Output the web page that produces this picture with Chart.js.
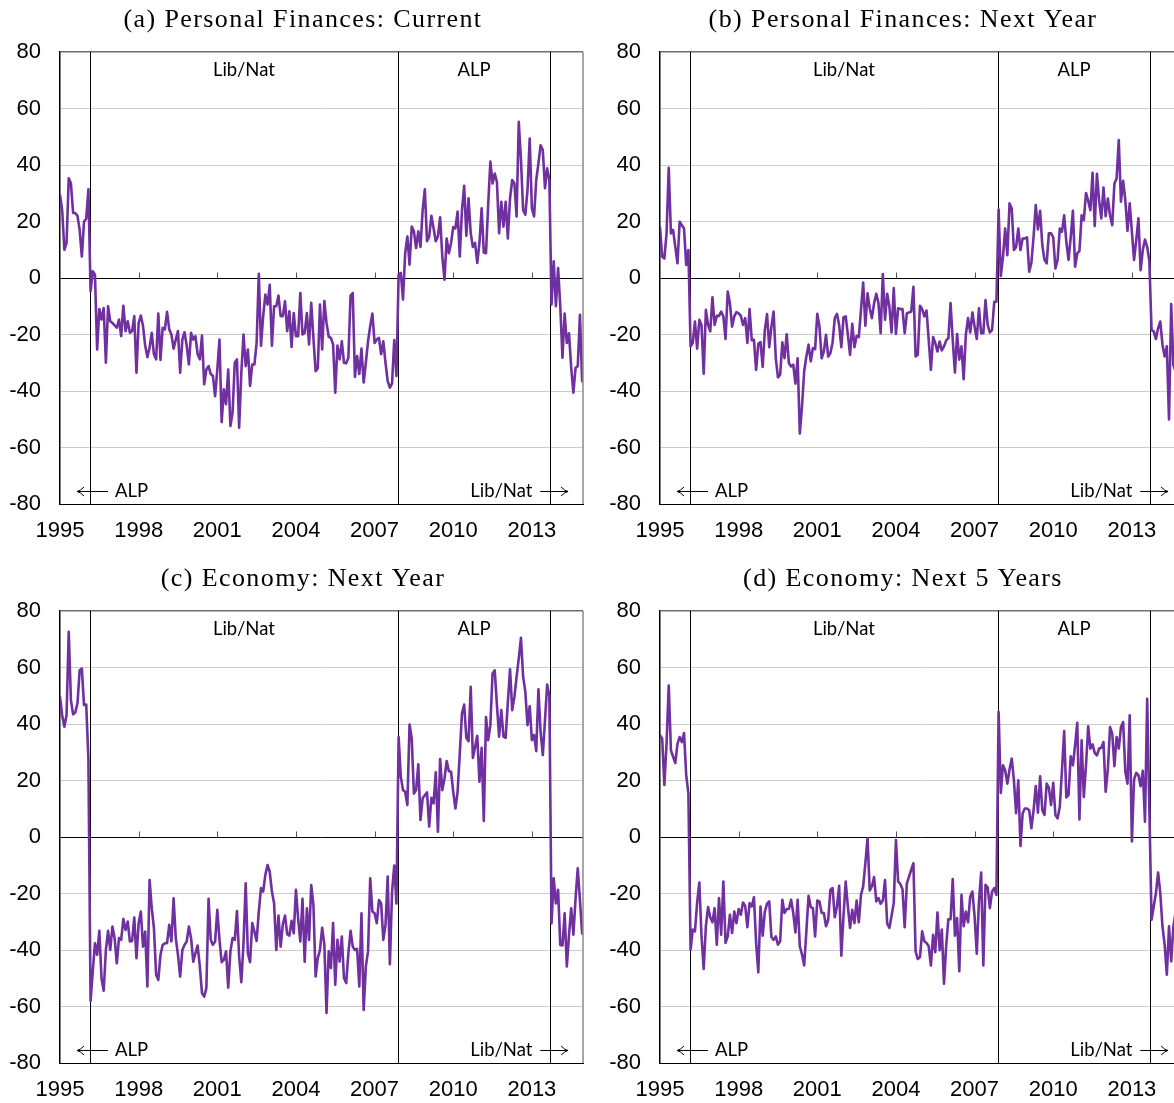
<!DOCTYPE html>
<html>
<head>
<meta charset="utf-8">
<script src="https://cdn.jsdelivr.net/npm/chart.js@4.4.1/dist/chart.umd.min.js"></script>
<style>
  html, body { margin: 0; padding: 0; background: #fff; overflow: hidden; }
  body { width: 1174px; height: 1103px; position: relative; }
  .panel { position: absolute; width: 606px; height: 556px; }
  .panel canvas { display: block; }
</style>
</head>
<body>
<div class="panel" style="left:0;top:0"><canvas id="chartA" width="606" height="556"></canvas></div>
<div class="panel" style="left:600px;top:0"><canvas id="chartB" width="606" height="556"></canvas></div>
<div class="panel" style="left:0;top:559px"><canvas id="chartC" width="606" height="556"></canvas></div>
<div class="panel" style="left:600px;top:559px"><canvas id="chartD" width="606" height="556"></canvas></div>
<script>
// monthly series, first value = January 1995
const START_YEAR = 1995;
const yearTicks = [1995, 1998, 2001, 2004, 2007, 2010, 2013];
const elections = [1996.15, 2007.88, 2013.7];

const personalCurrent = [
  29.4, 24, 10, 12.4, 35.3, 33.5, 23, 23, 22, 17, 7.6, 20, 21, 31.4,
  -4.7, 2.4, 1.2, -25.3, -11, -14.7, -10.6, -30, -10, -15.3,
  -15.9, -16.8, -17.6, -14.7, -20.6, -9.8, -18.8, -15.3, -19.4, -18.8,
  -13.5, -33.5, -15.9, -13.3, -17, -24, -28, -24.7, -19.4, -27,
  -28.8, -12.6, -29, -17.6, -18.2, -12, -18.2, -20, -25, -21.8,
  -18.8, -33.5, -21.8, -19.2, -24, -30.6, -19.4, -21.8, -20.6, -27,
  -28.8, -20.4, -37.6, -32.4, -31.2, -34, -34.7, -41.8, -32.4, -21.8,
  -51, -39.4, -44.7, -32.4, -52.4, -47.6, -30, -28.8, -53, -33.5,
  -20, -31.2, -25.3, -38.2, -30.6, -30.6, -23, 1.5, -24, -13.5,
  -5.9, -9.4, -2.4, -24, -10, -10, -6.2, -13.5, -13.5, -8.2,
  -18.8, -11.8, -24.4, -12.4, -20.6, -20.6, -5.3, -20, -19.4, -12.4,
  -23.5, -8.8, -21.2, -33, -32, -9.4, -25.3, -8.2, -15.9, -20.8,
  -21.2, -23.5, -40.6, -23.9, -28.8, -22.4, -30, -30.2, -28.2, -6.2,
  -5.3, -35, -27.6, -34, -25, -37, -30, -22.4, -17, -12.6,
  -23, -21.8, -21.2, -27, -22.4, -30, -36.5, -38.8, -37.3, -22,
  -34.7,
  1.2, 1.8, -7.6, 8.8, 14.7, 4.7, 18.2, 16.5, 10.6, 16.5,
  11, 24, 31.4, 13, 14.7, 22, 17.6, 13, 14.7, 21.5,
  7.6, -0.6, 14, 8.8, 12.4, 18, 17.6, 23.5, 7.6, 24,
  32.6, 15, 28.2, 15.9, 11, 12.4, 5.3, 12.4, 24.7, 9,
  8.8, 26, 41.2, 33.5, 37, 34, 15.9, 27, 18.2, 27,
  14, 28.2, 34.7, 33.5, 21.8, 55.3, 41.8, 24, 22.4, 31.2,
  49.4, 24.7, 21.8, 34.7, 40.6, 47, 45.3, 31.8, 38.8, 34.7,
  -9.4, 5.9, -10, 3.5, -10, -28.2, -12.6, -23, -19.6, -31.8,
  -40.6, -31.8, -31.2, -13, -36.5
];

const personalNextYear = [
  17.9, 7.5, 6.9, 15.8, 39, 15.8, 17, 11, 5.2, 19.9, 18.7, 17.5, 4.6, 9.9,
  -24.2, -23, -15.4, -25, -14.8, -16.6, -33.9, -11.3, -16.6, -18.9,
  -6.8, -16.6, -13.4, -13.4, -11.9, -13.6, -21.6, -4.8, -8.9, -17.2,
  -13.6, -12.1, -12.5, -13.4, -16.6, -14.2, -23, -11, -22, -21.9,
  -32.5, -23.3, -22.7, -31.5, -18.4, -12.8, -24.5, -17.2, -11.9, -28.4,
  -35.2, -34.2, -22.8, -28.4, -19.9, -30.1, -31.3, -30.7, -37.4, -28.4,
  -55, -45.4, -33, -27.8, -23.6, -29.5, -24.8, -25.2, -12.7, -17.2,
  -28.4, -26, -20.1, -27.8, -26.6, -22.8, -14.2, -12.7, -16.6, -24.5,
  -13.9, -13.6, -20.1, -27.2, -16.2, -24.5, -20.5, -20.9, -11.3, -1.6,
  -16.9, -5.4, -10.7, -14.2, -8.9, -5.6, -8.9, -19.5, 1.4, -14.8,
  -5.6, -10.1, -19.3, -3.6, -19.8, -10.7, -11, -11, -19.5, -12.5,
  -12.2, -11.9, -3.1, -27.8, -27.2, -9.8, -11, -13.6, -11.5, -21.9,
  -32.5, -20.9, -23, -26, -22.5, -25.6, -24.2, -22.1, -21.3, -8.9,
  -21.9, -33.4, -19.8, -28.9, -24.2, -35.8, -20.1, -14.2, -19.3, -12.2,
  -17.2, -21.6, -10.7, -19.5, -19.5, -7.8, -16.6, -19.3, -18.4, -8.4,
  -8.4,
  24.2, 0.7, 7.5, 17.5, 8.1, 26.4, 24.6, 9.9, 11, 17.5,
  9.9, 14, 14, 14.4, 2.2, 5.4, 14.6, 25.8, 17.2, 23.8,
  11.6, 6.4, 5.2, 15.8, 15.8, 14.4, 3.4, 6.4, 17.5, 16.4,
  22.2, 12.8, 6.4, 14.4, 23.8, 4, 8.7, 9.6, 22.2, 20.5,
  30.1, 27.3, 24, 37.2, 18.4, 36.9, 27.5, 21.1, 32, 21.9,
  28.1, 22.2, 18.7, 33.4, 35.2, 48.8, 27, 34.4, 27.5, 16.7,
  26.4, 16.4, 6.4, 13.4, 21.1, 2.8, 9.9, 13.6, 11, 6,
  -18.4, -18.9, -21.6, -17.8, -15.4, -23.6, -27.8, -24.2, -50.1, -9.2,
  -30.7, -33
];

const economyNextYear = [
  49.6, 43.1, 39, 43.1, 72.6, 48.4, 43.4, 44.1, 47.3, 59, 59.6, 46.7, 46.9, 27.8,
  -58, -47.6, -37.6, -41.7, -33.2, -50, -54.4, -40, -33.2, -40,
  -31.7, -35.8, -44.7, -35.8, -36.4, -29, -32.9, -29.9, -37, -36.8,
  -28.5, -42.9, -30.5, -26.4, -38.8, -33.5, -52.9, -15.2, -25.2, -32.3,
  -48.8, -50.6, -41.7, -38.2, -37.6, -37.6, -31.1, -37, -21.7, -35.8,
  -41.7, -49.4, -40, -38.2, -37, -31.7, -35.8, -44.1, -41.1, -38.4,
  -45.8, -55.3, -56.5, -53.5, -21.9, -36.4, -38.2, -37, -25.8, -36.4,
  -44.3, -43.5, -40.5, -53.3, -40.5, -35.8, -36.4, -26.2, -42.3, -51.4,
  -37.6, -16.4, -41.1, -44.3, -30.5, -33.5, -36.8, -26.4, -18.1, -19.3,
  -13.4, -9.9, -12.3, -19.3, -23.5, -40, -27.8, -38.8, -30.9, -27.8,
  -34.4, -34.9, -29.7, -34.1, -18.7, -28.8, -37, -21.9, -44.1, -25.2,
  -36.4, -17, -24, -49.4, -42.9, -40, -32.1, -37.9, -62.3, -40.5,
  -46.4, -30.5, -52.3, -36.4, -44.1, -35.2, -50, -51.7, -41.1, -33.2,
  -38.8, -40, -39.6, -52.9, -27, -61.2, -45.8, -40.5, -14.6, -26.4,
  -27, -30.5, -22.3, -23.5, -36.4, -31.1, -14, -45, -19.3, -10.1,
  -23.5,
  35.5, 21.3, 16.6, 16, 11.3, 39.8, 34.9, 15.4, 16.6, 25.7,
  6, 13.7, 14.8, 15.8, 3.7, 13.9, 11.9, 22.9, 1.9, 27.6,
  16.6, 20.7, 26.9, 23.3, 23.1, 16, 10.1, 16, 29.6, 43.7,
  46.9, 35.1, 33.9, 53.2, 28, 31.9, 35.8, 19.6, 31.6, 5.7,
  42.5, 34.3, 39.6, 57.9, 59, 46.7, 35.5, 44.9, 35.5, 35.1,
  47.8, 59.4, 44.9, 49.6, 56.7, 63.2, 70.5, 56.7, 51.4, 39.6,
  46.3, 34.3, 36.1, 30.4, 52.3, 37, 29, 41.4, 54, 50,
  -30.5, -14.6, -23.5, -18.7, -38.2, -38.4, -27, -45.8, -34.6, -25.2,
  -34.6, -21.7, -11.1, -22.3, -34.1
];

const economyNext5Years = [
  36, 34.8, 18.4, 33, 53.6, 30.7, 28.4, 26.2, 33, 35.4, 33.6, 36.8, 21.9, 15.4,
  -39.9, -32.8, -33.4, -23.2, -16.1, -35.2, -46.7, -31.6, -24.8, -28.4,
  -30.2, -25.2, -38.1, -21.6, -34.6, -15.8, -37.5, -35.2, -27.5, -34,
  -26.4, -30.5, -25.5, -27.5, -23.2, -24.4, -31.9, -23.4, -24.6, -21.3,
  -37.5, -47.9, -24.6, -34.9, -26.4, -23.6, -22.8, -35.4, -36.4, -35.2,
  -38.1, -36.9, -22.2, -26.9, -25.5, -25.5, -22.2, -26.9, -33.8, -22.2,
  -38.7, -41.6, -45.5, -33.4, -20.8, -24.8, -25.2, -35.2, -22.5, -22.8,
  -26.9, -26.9, -31.6, -29.3, -18.7, -18.1, -28.4, -24.6, -17.3, -42,
  -27.9, -15.8, -24.6, -32.2, -25.8, -30.5, -22.5, -30.2, -20.5, -17.5,
  -9.3, -0.5, -18.9, -17.5, -14.2, -22.8, -21.6, -23.6, -22.5, -15.2,
  -30.7, -32.2, -27.9, -23.4, -1.1, -15.8, -16.6, -18.5, -31.9, -16.4,
  -14, -11.6, -9.3, -40.5, -43.2, -42.5, -33.4, -36.9, -37.5, -38.7,
  -45.5, -34.6, -40.8, -26.7, -40.1, -32.8, -51.9, -38.5, -29.1, -29.1,
  -14.9, -34.9, -28.7, -47.5, -20.5, -31.6, -26.4, -30.2, -21.1, -19.3,
  -28.1, -41.3, -22.8, -12.6, -45.5, -16.9, -17.8, -25.2, -19.3, -18.1,
  -20.5,
  44.2, 15.6, 25.4, 23.6, 18.9, 23.9, 27.8, 20.1, 8.4, 20.1,
  -3.2, 8.4, 10.1, 10.1, 9.5, 3.1, 9.5, 18, 8.6, 21.5,
  9.5, 7.8, 18.9, 17.5, 11.3, 19.2, 7.8, 6.6, 10.7, 23.6,
  37.5, 14, 14.8, 28.6, 25.4, 32.5, 40.4, 6.2, 34.2, 14.2,
  25.4, 39.2, 31.3, 32.8, 29.8, 28.9, 31.3, 31.6, 33.6, 16,
  23.9, 38.9, 36.6, 25.1, 35.4, 31.3, 38.9, 40.7, 23.1, 18.9,
  43.1, -1.6, 20.4, 22.7, 21.9, 18, 23.4, 5.4, 48.9, 10,
  -29.3, -24.6, -19.9, -12.6, -19.9, -31.6, -38.1, -48.7, -31.6, -44,
  -31.6, -26.9
];

const LINE_COLOR = '#7030a0';
const TICK_FONT = { family: '"Liberation Sans", Arial, sans-serif', size: 22 };

// titulo, etiquetas de gobierno y flechas
const panelDecor = {
  id: 'panelDecor',
  beforeDatasetsDraw(chart) {
    const { ctx, chartArea: a, scales: { x, y } } = chart;
    ctx.save();
    const y0 = Math.round(y.getPixelForValue(0)) + 0.5;
    ctx.strokeStyle = '#555';
    ctx.lineWidth = 1;
    yearTicks.slice(1).forEach(t => {
      const px = Math.round(x.getPixelForValue(t)) + 0.5;
      ctx.beginPath(); ctx.moveTo(px, y0); ctx.lineTo(px, y0 - 6); ctx.stroke();
    });
    ctx.strokeStyle = '#000';
    elections.forEach(e => {
      const px = Math.round(x.getPixelForValue(e)) + 0.5;
      ctx.beginPath(); ctx.moveTo(px, a.top); ctx.lineTo(px, a.bottom); ctx.stroke();
    });
    ctx.restore();
  },
  afterDraw(chart, args, opts) {
    const { ctx, chartArea: a, scales: { x } } = chart;
    ctx.save();
    // borde derecho
    ctx.strokeStyle = '#8a8a8a';
    ctx.lineWidth = 1.5;
    ctx.beginPath(); ctx.moveTo(a.right, a.top); ctx.lineTo(a.right, a.bottom); ctx.stroke();

    // titulo
    ctx.fillStyle = '#000';
    ctx.font = '26px "Liberation Serif", "Times New Roman", serif';
    ctx.letterSpacing = '1.4px';
    ctx.textAlign = 'center';
    ctx.textBaseline = 'alphabetic';
    ctx.fillText(opts.title, chart.width / 2, 27);
    ctx.letterSpacing = '0px';

    // etiquetas de periodos
    ctx.font = '18.5px Lato, "Open Sans", sans-serif';
    ctx.textBaseline = 'middle';
    const mid1 = x.getPixelForValue((elections[0] + elections[1]) / 2);
    const mid2 = x.getPixelForValue((elections[1] + elections[2]) / 2);
    ctx.fillText('Lib/Nat', mid1, a.top + 18);
    ctx.fillText('ALP', mid2, a.top + 18);

    const yb = a.bottom - 13;
    ctx.textAlign = 'left';
    ctx.fillText('ALP', x.getPixelForValue(1997.1), yb);
    ctx.textAlign = 'right';
    ctx.fillText('Lib/Nat', x.getPixelForValue(2013.02), yb);

    ctx.strokeStyle = '#000';
    ctx.lineWidth = 1;
    const arrow = (from, to) => {
      const x1 = x.getPixelForValue(from), x2 = x.getPixelForValue(to);
      const dir = Math.sign(x2 - x1);
      ctx.beginPath();
      ctx.moveTo(x1, yb + 0.5); ctx.lineTo(x2, yb + 0.5);
      ctx.moveTo(x2 - dir * 7, yb - 4); ctx.quadraticCurveTo(x2 - dir * 3, yb, x2, yb + 0.5);
      ctx.quadraticCurveTo(x2 - dir * 3, yb + 1, x2 - dir * 7, yb + 5);
      ctx.stroke();
    };
    arrow(1996.83, 1995.65);
    arrow(2013.32, 2014.38);
    ctx.restore();
  }
};

function crearGrafico(canvasId, titulo, valores) {
  const puntos = valores.map((v, i) => ({ x: START_YEAR + i / 12, y: v }));
  const canvas = document.getElementById(canvasId);
  return new Chart(canvas, {
    type: 'line',
    data: {
      datasets: [{
        data: puntos,
        borderColor: LINE_COLOR,
        borderWidth: 2.6,
        pointRadius: 0,
        tension: 0,
        borderJoinStyle: 'round',
        borderCapStyle: 'round'
      }]
    },
    options: {
      responsive: false,
      animation: false,
      devicePixelRatio: 1,
      layout: { padding: { left: 0, top: 52, right: canvas.width - 583, bottom: 0 } },
      plugins: {
        legend: { display: false },
        tooltip: { enabled: false },
        panelDecor: { title: titulo }
      },
      scales: {
        x: {
          type: 'linear',
          min: 1995,
          max: 2014.95,
          afterBuildTicks: s => { s.ticks = yearTicks.map(v => ({ value: v })); },
          afterFit: s => { s.height = canvas.height - 504; },
          grid: { display: false, drawTicks: false },
          border: { display: true, color: '#000', width: 1 },
          ticks: { padding: 14, color: '#000', font: TICK_FONT, maxRotation: 0, autoSkip: false, callback: v => String(v) }
        },
        y: {
          min: -80,
          max: 80,
          afterFit: s => { s.width = 60; },
          grid: {
            drawTicks: false,
            color: c => (c.tick.value === 0 || c.tick.value === -80) ? '#000' : (c.tick.value === 80 ? '#6e6e6e' : '#cccccc'),
            lineWidth: c => c.tick.value === 80 ? 1.5 : 1
          },
          border: { display: true, color: '#000', width: 1.5 },
          ticks: { stepSize: 20, padding: 19, color: '#000', font: TICK_FONT }
        }
      }
    },
    plugins: [panelDecor]
  });
}

crearGrafico('chartA', '(a) Personal Finances: Current', personalCurrent);
crearGrafico('chartB', '(b) Personal Finances: Next Year', personalNextYear);
crearGrafico('chartC', '(c) Economy: Next Year', economyNextYear);
crearGrafico('chartD', '(d) Economy: Next 5 Years', economyNext5Years);
</script>
</body>
</html>
